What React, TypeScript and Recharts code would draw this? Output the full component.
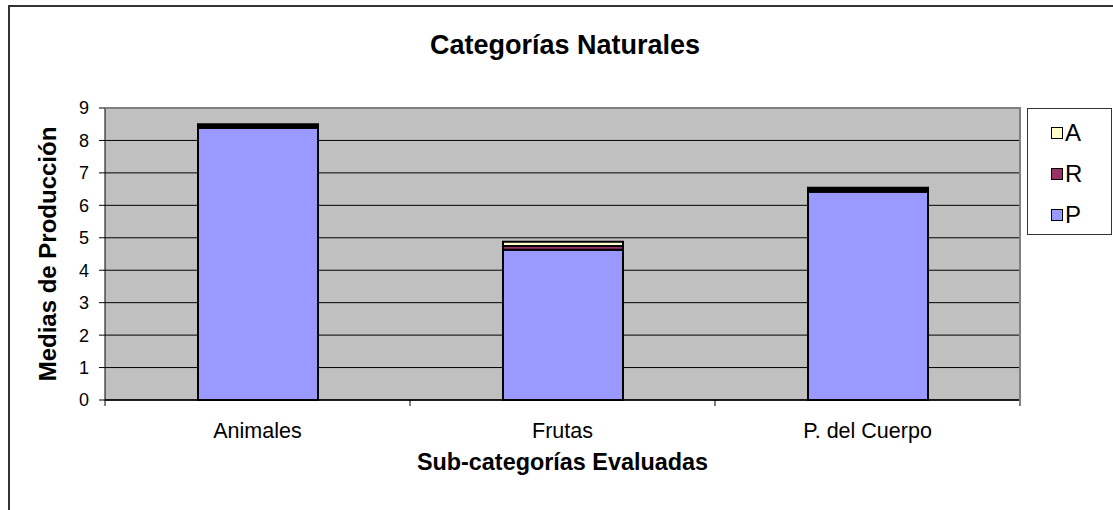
import React from 'react';
import { BarChart, Bar, XAxis, YAxis, CartesianGrid, ReferenceLine } from 'recharts';

const categories = ['Animales', 'Frutas', 'P. del Cuerpo'];
const pValues = [8.38, 4.63, 6.42];
const rValues = [0.06, 0.12, 0.06];
const aValues = [0.06, 0.13, 0.06];
const yTicks = [0, 1, 2, 3, 4, 5, 6, 7, 8, 9];

const data = categories.map((name, i) => ({
  name,
  P: pValues[i],
  R: rValues[i],
  A: aValues[i],
}));

const legendItems = [
  { label: 'A', color: '#FFFFCC' },
  { label: 'R', color: '#993366' },
  { label: 'P', color: '#9999FF' },
];

const font = '"Liberation Sans", Arial, sans-serif';
const band = 305;

// category labels in the middle, tick marks on the category boundaries
const XTick = (props: any) => {
  const { x, y, payload, index } = props;
  const left = x - band / 2;
  return (
    <g>
      <line x1={left} y1={y - 8} x2={left} y2={y - 2} stroke="#000" strokeWidth={1} />
      {index === categories.length - 1 && (
        <line x1={x + band / 2} y1={y - 8} x2={x + band / 2} y2={y - 2} stroke="#808080" strokeWidth={2} />
      )}
      <text x={x} y={y + 29.5} textAnchor="middle" fontSize={21.5} fontFamily={font} fill="#000">
        {payload.value}
      </text>
    </g>
  );
};

const LegendBox = () => (
  <div
    style={{
      position: 'absolute',
      left: 1027,
      top: 108,
      border: '1px solid #333',
      background: '#fff',
      width: 85,
      height: 127,
      boxSizing: 'border-box',
      paddingTop: 3,
      paddingLeft: 23,
      fontFamily: font,
      fontSize: 24,
    }}
  >
    {legendItems.map((it) => (
      <div key={it.label} style={{ display: 'flex', alignItems: 'center', height: 41, lineHeight: '24px' }}>
        <span
          style={{
            display: 'inline-block',
            width: 10,
            height: 10,
            background: it.color,
            border: '1.5px solid #000',
            marginRight: 2,
          }}
        />
        <span>{it.label}</span>
      </div>
    ))}
  </div>
);

export default function App() {
  return (
    <div style={{ position: 'absolute', left: 0, top: 0, width: 1113, height: 510, overflow: 'hidden', background: '#fff' }}>
      <div
        style={{
          position: 'absolute',
          left: 8,
          top: 5,
          width: 1130,
          height: 530,
          border: '2px solid #333',
        }}
      />
      <div
        style={{
          position: 'absolute',
          left: 0,
          top: 32,
          width: 1130,
          textAlign: 'center',
          fontFamily: font,
          fontWeight: 'bold',
          fontSize: 27,
          lineHeight: '27px',
        }}
      >
        Categorías Naturales
      </div>
      <div
        style={{
          position: 'absolute',
          left: 105,
          top: 451,
          width: 915,
          textAlign: 'center',
          fontFamily: font,
          fontWeight: 'bold',
          fontSize: 23.4,
          lineHeight: '23.4px',
        }}
      >
        Sub-categorías Evaluadas
      </div>
      <div
        style={{
          position: 'absolute',
          left: 48,
          top: 254,
          transform: 'translate(-50%, -50%) rotate(-90deg)',
          whiteSpace: 'nowrap',
          fontFamily: font,
          fontWeight: 'bold',
          fontSize: 24,
          lineHeight: '24px',
        }}
      >
        Medias de Producción
      </div>
      <div style={{ position: 'absolute', left: 0, top: 0 }}>
        <BarChart
          width={1113}
          height={510}
          data={data}
          margin={{ top: 108, right: 93, bottom: 80, left: 65 }}
          barSize={120}
        >
          <CartesianGrid vertical={false} stroke="#000" fill="#C0C0C0" strokeOpacity={1} />
          <ReferenceLine y={9} stroke="#808080" strokeWidth={2} />
          <XAxis
            dataKey="name"
            height={30}
            axisLine={{ stroke: '#000', strokeWidth: 1.5 }}
            tickLine={false}
            tick={<XTick />}
            interval={0}
          />
          <YAxis
            width={40}
            domain={[0, 9]}
            ticks={yTicks}
            interval={0}
            axisLine={{ stroke: '#000' }}
            tickLine={{ stroke: '#000' }}
            tickSize={6}
            tickMargin={10}
            tick={{ fill: '#000', fontSize: 18, fontFamily: font }}
          />
          <Bar dataKey="P" stackId="s" fill="#9999FF" stroke="#000" strokeWidth={2} isAnimationActive={false} />
          <Bar dataKey="R" stackId="s" fill="#993366" stroke="#000" strokeWidth={2} isAnimationActive={false} />
          <Bar dataKey="A" stackId="s" fill="#FFFFCC" stroke="#000" strokeWidth={2} isAnimationActive={false} />
        </BarChart>
      </div>
      <div
        style={{
          position: 'absolute',
          left: 105,
          top: 107,
          width: 914,
          height: 293,
          borderTop: '2px solid #808080',
          borderRight: '2px solid #808080',
          pointerEvents: 'none',
        }}
      />
      <LegendBox />
    </div>
  );
}
